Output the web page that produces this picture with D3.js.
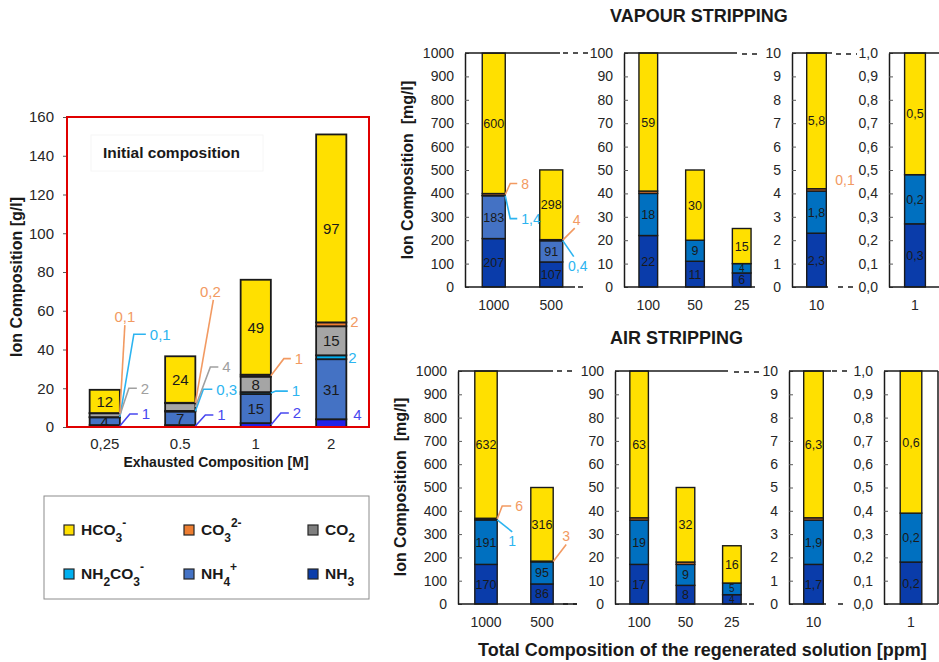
<!DOCTYPE html>
<html>
<head>
<meta charset="utf-8">
<script src="https://cdn.jsdelivr.net/npm/d3@7"></script>
<style>
  body { margin: 0; background: #fff; }
  svg { display: block; font-family: Arial, "Liberation Sans", sans-serif; }
</style>
</head>
<body>
<svg id="chart" width="939" height="662"></svg>
<script>
// ---------------- data ----------------
const seriesKeys = ["NH3", "NH4", "NH2CO3", "CO2", "CO3", "HCO3"];

// Exhausted solutions, g/l
const exhCats   = ["0,25", "0.5", "1", "2"];
const exhNH3    = [1, 1, 2, 4];
const exhNH4    = [4, 7, 15, 31];
const exhNH2CO3 = [0.1, 0.3, 1, 2];
const exhCO2    = [2, 4, 8, 15];
const exhCO3    = [0.1, 0.2, 1, 2];
const exhHCO3   = [12, 24, 49, 97];
const exhTicks  = [0, 20, 40, 60, 80, 100, 120, 140, 160];

// Vapour stripping, mg/l
const vapACats = ["1000", "500"];
const vapANH3 = [207, 107];
const vapANH4 = [183, 91];
const vapANH2CO3 = [1.4, 0.4];
const vapACO3 = [8, 4];
const vapAHCO3 = [600, 298];

const vapBCats = ["100", "50", "25"];
const vapBNH3 = [22, 11, 6];
const vapBNH4 = [18, 9, 4];
const vapBCO3 = [1, 0, 0];
const vapBHCO3 = [59, 30, 15];

const vapCCats = ["10"];
const vapCNH3 = [2.3];
const vapCNH4 = [1.8];
const vapCCO3 = [0.1];
const vapCHCO3 = [5.8];

const vapDCats = ["1"];
const vapDNH3 = [0.27];
const vapDNH4 = [0.21];
const vapDHCO3 = [0.52];

// Air stripping, mg/l
const airACats = ["1000", "500"];
const airANH3 = [170, 86];
const airANH4 = [191, 95];
const airANH2CO3 = [1, 0];
const airACO3 = [6, 3];
const airAHCO3 = [632, 316];

const airBCats = ["100", "50", "25"];
const airBNH3 = [17, 8, 4];
const airBNH4 = [19, 9, 5];
const airBCO3 = [1, 1, 0];
const airBHCO3 = [63, 32, 16];

const airCCats = ["10"];
const airCNH3 = [1.7];
const airCNH4 = [1.9];
const airCCO3 = [0.1];
const airCHCO3 = [6.3];

const airDCats = ["1"];
const airDNH3 = [0.18];
const airDNH4 = [0.21];
const airDHCO3 = [0.61];

const ticks1000 = [0, 100, 200, 300, 400, 500, 600, 700, 800, 900, 1000];
const ticks100  = [0, 10, 20, 30, 40, 50, 60, 70, 80, 90, 100];
const ticks10   = [0, 1, 2, 3, 4, 5, 6, 7, 8, 9, 10];
const ticks1    = [0, 0.1, 0.2, 0.3, 0.4, 0.5, 0.6, 0.7, 0.8, 0.9, 1.0];

// ---------------- styles ----------------
const colors = {
  HCO3: "#FFE000", CO3: "#ED7D31", CO2: "#A5A5A5",
  NH2CO3: "#00B0F0", NH4: "#4472C4", NH3: "#0A3CAA"
};
const exhColors = Object.assign({}, colors, { NH3: "#2222E8" });
const stripMid = "#0070C0";
const legendColors = Object.assign({}, colors, { CO2: "#7F7F7F" });
const calloutColors = { NH3: "#4848F0", NH2CO3: "#2CB4F0", CO2: "#A0A0A0", CO3: "#F29A62" };

const fmt = v => (Number.isInteger(v) ? String(v) : v.toFixed(1)).replace(".", ",");
const tickComma = d => d.toFixed(1).replace(".", ",");

function buildRows(cats, cols) {
  return cats.map((c, i) => {
    const r = { cat: c };
    seriesKeys.forEach(k => { r[k] = cols[k] ? cols[k][i] : 0; });
    return r;
  });
}

const svg = d3.select("#chart");

// generic stacked bars + labels
function drawBars(g, rows, x, y, palette, opt) {
  const stacked = d3.stack().keys(seriesKeys).value((d, k) => d[k])(rows);
  const calloutSet = new Set((opt.callouts || []).map(c => c.cat + "|" + c.key));

  stacked.forEach(layer => {
    g.append("g").selectAll("rect")
      .data(layer.filter(s => s.data[layer.key] > 0))
      .join("rect")
      .attr("x", s => x(s.data.cat))
      .attr("width", x.bandwidth())
      .attr("y", s => y(s[1]))
      .attr("height", s => Math.max(0, y(s[0]) - y(s[1])))
      .attr("fill", palette[layer.key])
      .attr("stroke", "#1a1a1a")
      .attr("stroke-width", opt.strokeW);
  });

  // labels inside the segments (smaller type in very short segments)
  stacked.forEach(layer => {
    if (!opt.insideKeys.includes(layer.key)) return;
    g.append("g").selectAll("text")
      .data(layer.filter(s => s.data[layer.key] > 0 && !calloutSet.has(s.data.cat + "|" + layer.key)))
      .join("text")
      .attr("x", s => x(s.data.cat) + x.bandwidth() / 2)
      .attr("y", s => (y(s[0]) + y(s[1])) / 2)
      .attr("dy", "0.36em")
      .attr("text-anchor", "middle")
      .attr("font-size", s => (y(s[0]) - y(s[1]) < 14 && opt.smallSize) ? opt.smallSize : opt.insideSize)
      .attr("font-family", opt.insideFont)
      .attr("fill", "#1a1a1a")
      .text(s => fmt(s.data[layer.key]));
  });

  // callout labels with leader lines
  (opt.callouts || []).forEach(c => {
    const layer = stacked.find(l => l.key === c.key);
    const seg = layer[x.domain().indexOf(c.cat)];
    const v = seg.data[c.key];
    const ax = x(c.cat) + x.bandwidth();
    const ay = (y(seg[0]) + y(seg[1])) / 2;
    const ex = ax + (c.dx1 || 0), ey = ay + c.dy;
    const hx = ax + (c.dx2 !== undefined ? c.dx2 : (c.dx1 || 0));
    const col = calloutColors[c.key];
    if (c.dx1) {
      g.append("path")
        .attr("d", `M${ax},${ay}L${ex},${ey}L${hx},${ey}`)
        .attr("fill", "none").attr("stroke", col).attr("stroke-width", 1.6);
    }
    const t = g.append("text")
      .attr("font-size", opt.calloutSize)
      .attr("fill", col)
      .text(fmt(v));
    if (c.pos === "top") {
      t.attr("x", ex + (c.lx || 0)).attr("y", ey - 3).attr("text-anchor", "middle");
    } else if (c.pos === "bottom") {
      t.attr("x", ex + (c.lx || 0)).attr("y", ey + 14).attr("text-anchor", "middle");
    } else {
      t.attr("x", hx + (c.gap !== undefined ? c.gap : 4)).attr("y", ey).attr("dy", "0.36em");
    }
  });
}

// ---------------- left chart: initial composition ----------------
(function () {
  const frame = { x0: 67, x1: 369, y0: 427, y1: 117 };
  const rows = buildRows(exhCats, { NH3: exhNH3, NH4: exhNH4, NH2CO3: exhNH2CO3, CO2: exhCO2, CO3: exhCO3, HCO3: exhHCO3 });
  const x = d3.scaleBand().domain(exhCats).range([frame.x0, frame.x1]).paddingInner(0.6).paddingOuter(0.3);
  const y = d3.scaleLinear().domain([0, 160]).range([frame.y0, frame.y1]);
  const g = svg.append("g");

  const ax = g.append("g").attr("transform", `translate(${frame.x0},0)`)
    .call(d3.axisLeft(y).tickValues(exhTicks).tickSize(4).tickSizeOuter(0).tickPadding(9));
  ax.select(".domain").remove();
  ax.selectAll("line").attr("stroke", "#595959");
  ax.selectAll("text").attr("font-size", 15).attr("fill", "#262626").attr("font-family", "Arial, 'Liberation Sans', sans-serif");

  // label box
  g.append("rect").attr("x", 91).attr("y", 135).attr("width", 172).attr("height", 36)
    .attr("fill", "#fff").attr("stroke", "#f6f6f6");
  g.append("text").attr("x", 103).attr("y", 158).attr("font-size", 15.5).attr("font-weight", "bold")
    .attr("fill", "#1a1a1a").text("Initial composition");

  drawBars(g, rows, x, y, exhColors, {
    strokeW: 1.8, insideKeys: ["NH4", "CO2", "HCO3"], insideSize: 15,
    insideFont: "Arial, 'Liberation Sans', sans-serif", calloutSize: 15,
    callouts: [
      { cat: "0,25", key: "NH3", dx1: 10, dy: -12, dx2: 18 },
      { cat: "0,25", key: "NH2CO3", dx1: 14, dy: -83, dx2: 26 },
      { cat: "0,25", key: "CO2", dx1: 9, dy: -27, dx2: 17 },
      { cat: "0,25", key: "CO3", dx1: 5, dy: -88, pos: "top" },
      { cat: "0.5", key: "NH3", dx1: 10, dy: -11, dx2: 18 },
      { cat: "0.5", key: "NH2CO3", dx1: 8, dy: -22, dx2: 17 },
      { cat: "0.5", key: "CO2", dx1: 15, dy: -40, dx2: 23 },
      { cat: "0.5", key: "CO3", dx1: 18, dy: -103, pos: "top", lx: -3 },
      { cat: "1", key: "NH3", dx1: 10, dy: -12, dx2: 18 },
      { cat: "1", key: "NH2CO3", dx1: 5, dy: -2, dx2: 17 },
      { cat: "1", key: "CO3", dx1: 13, dy: -17, dx2: 20 },
      { cat: "2", key: "NH3", dy: -9, gap: 7 },
      { cat: "2", key: "NH2CO3", dy: 0, gap: 2 },
      { cat: "2", key: "CO3", dy: -3, gap: 4 }
    ]
  });

  g.append("rect").attr("x", frame.x0).attr("y", frame.y1)
    .attr("width", frame.x1 - frame.x0).attr("height", frame.y0 - frame.y1)
    .attr("fill", "none").attr("stroke", "#E00000").attr("stroke-width", 2);

  g.selectAll(".xl").data(exhCats).join("text")
    .attr("x", d => x(d) + x.bandwidth() / 2).attr("y", 449)
    .attr("text-anchor", "middle").attr("font-size", 15).attr("fill", "#262626").text(d => d);

  g.append("text").attr("x", 216).attr("y", 467).attr("text-anchor", "middle")
    .attr("font-size", 14).attr("font-weight", "bold").attr("fill", "#1a1a1a")
    .text("Exhausted Composition [M]");
  g.append("text").attr("transform", "translate(22,277) rotate(-90)").attr("text-anchor", "middle")
    .attr("font-size", 16).attr("font-weight", "bold").attr("fill", "#1a1a1a")
    .text("Ion Composition [g/l]");
})();

// ---------------- legend ----------------
(function () {
  const g = svg.append("g");
  g.append("rect").attr("x", 44).attr("y", 496).attr("width", 325).attr("height", 103)
    .attr("fill", "#fff").attr("stroke", "#8c8c8c").attr("stroke-width", 1);
  const items = [
    { key: "HCO3", col: 0, row: 0, parts: [["HCO", ""], ["3", "sub"], ["-", "sup"]] },
    { key: "CO3", col: 1, row: 0, parts: [["CO", ""], ["3", "sub"], ["2-", "sup"]] },
    { key: "CO2", col: 2, row: 0, parts: [["CO", ""], ["2", "sub"]] },
    { key: "NH2CO3", col: 0, row: 1, parts: [["NH", ""], ["2", "sub"], ["CO", ""], ["3", "sub"], ["-", "sup"]] },
    { key: "NH4", col: 1, row: 1, parts: [["NH", ""], ["4", "sub"], ["+", "sup"]] },
    { key: "NH3", col: 2, row: 1, parts: [["NH", ""], ["3", "sub"]] }
  ];
  const colX = [64, 184, 308];
  const rowY = [525, 569];
  items.forEach(it => {
    const sx = colX[it.col], sy = rowY[it.row];
    g.append("rect").attr("x", sx).attr("y", sy).attr("width", 10).attr("height", 10)
      .attr("fill", legendColors[it.key]).attr("stroke", "#262626").attr("stroke-width", 1.2);
    const t = g.append("text").attr("x", sx + 17).attr("y", sy + 10)
      .attr("font-size", 15.5).attr("font-weight", "bold").attr("fill", "#1a1a1a");
    let shift = 0;
    it.parts.forEach(([txt, kind]) => {
      const target = kind === "sub" ? 7 : kind === "sup" ? -8 : 0;
      t.append("tspan").attr("dy", target - shift)
        .attr("font-size", kind ? 12 : 15.5).text(txt);
      shift = target;
    });
  });
})();

// ---------------- right charts: stripping ----------------
const topRow = { y0: 287, y1: 53 };
const botRow = { y0: 604, y1: 371 };

const panels = [
  { row: topRow, cats: vapACats, cols: { NH3: vapANH3, NH4: vapANH4, NH2CO3: vapANH2CO3, CO3: vapACO3, HCO3: vapAHCO3 },
    max: 1000, ticks: ticks1000, tf: d3.format("d"), x0: 465, x1: 580, po: 0.3, topEnd: 560, botEnd: 575, mid: colors.NH4,
    callouts: [
      { cat: "1000", key: "CO3", dx1: 5, dy: -11, dx2: 12 },
      { cat: "1000", key: "NH2CO3", dx1: 5, dy: 23, dx2: 12 },
      { cat: "500", key: "CO3", dx1: 12, dy: -12, pos: "top", lx: 2 },
      { cat: "500", key: "NH2CO3", dx1: 11, dy: 16, pos: "bottom", lx: 4 }
    ] },
  { row: topRow, cats: vapBCats, cols: { NH3: vapBNH3, NH4: vapBNH4, CO3: vapBCO3, HCO3: vapBHCO3 },
    max: 100, ticks: ticks100, tf: d3.format("d"), x0: 624, x1: 766, po: 0.32, topEnd: 737, botEnd: 755, mid: stripMid, callouts: [] },
  { row: topRow, cats: vapCCats, cols: { NH3: vapCNH3, NH4: vapCNH4, CO3: vapCCO3, HCO3: vapCHCO3 },
    max: 10, ticks: ticks10, tf: d3.format("d"), x0: 792, x1: 841, po: 0.3, topEnd: 832, botEnd: 828, mid: stripMid,
    callouts: [{ cat: "10", key: "CO3", dy: -10, gap: 9 }] },
  { row: topRow, cats: vapDCats, cols: { NH3: vapDNH3, NH4: vapDNH4, HCO3: vapDHCO3 },
    max: 1, ticks: ticks1, tf: tickComma, x0: 889, x1: 941, po: 0.3, topEnd: 941, botEnd: 941, mid: stripMid, box: true, callouts: [] },

  { row: botRow, cats: airACats, cols: { NH3: airANH3, NH4: airANH4, NH2CO3: airANH2CO3, CO3: airACO3, HCO3: airAHCO3 },
    max: 1000, ticks: ticks1000, tf: d3.format("d"), x0: 458, x1: 570, po: 0.3, topEnd: 553, botEnd: 577, mid: stripMid,
    callouts: [
      { cat: "1000", key: "CO3", dx1: 5, dy: -13, dx2: 14 },
      { cat: "1000", key: "NH2CO3", dx1: 15, dy: 12, pos: "bottom" },
      { cat: "500", key: "CO3", dx1: 13, dy: -17, pos: "top" }
    ] },
  { row: botRow, cats: airBCats, cols: { NH3: airBNH3, NH4: airBNH4, CO3: airBCO3, HCO3: airBHCO3 },
    max: 100, ticks: ticks100, tf: d3.format("d"), x0: 615, x1: 756, po: 0.32, topEnd: 728, botEnd: 747, mid: stripMid, callouts: [] },
  { row: botRow, cats: airCCats, cols: { NH3: airCNH3, NH4: airCNH4, CO3: airCCO3, HCO3: airCHCO3 },
    max: 10, ticks: ticks10, tf: d3.format("d"), x0: 789, x1: 838, po: 0.3, topEnd: 831, botEnd: 826, mid: stripMid, callouts: [] },
  { row: botRow, cats: airDCats, cols: { NH3: airDNH3, NH4: airDNH4, HCO3: airDHCO3 },
    max: 1, ticks: ticks1, tf: tickComma, x0: 884, x1: 938, po: 0.3, topEnd: 938, botEnd: 938, mid: stripMid, box: true, callouts: [] }
];

// dashed breaks linking neighbouring panels
const breakMarks = [
  { y: 53, x0: 563, x1: 589 }, { y: 287, x0: 578, x1: 584 },
  { y: 54, x0: 742, x1: 761 },
  { y: 54, x0: 836, x1: 857 }, { y: 287, x0: 838, x1: 855 },
  { y: 371, x0: 557, x1: 575 }, { y: 604, x0: 563, x1: 577 },
  { y: 372, x0: 734, x1: 759 }, { y: 604, x0: 749, x1: 755 },
  { y: 371, x0: 832, x1: 850 }, { y: 604, x0: 838, x1: 845 }
];

panels.forEach(p => {
  const g = svg.append("g");
  const rows = buildRows(p.cats, p.cols);
  const x = d3.scaleBand().domain(p.cats).range([p.x0, p.x1]).paddingInner(0.6).paddingOuter(p.po);
  const y = d3.scaleLinear().domain([0, p.max]).range([p.row.y0, p.row.y1]);
  const palette = Object.assign({}, colors, { NH4: p.mid });

  const ax = g.append("g").attr("transform", `translate(${p.x0},0)`)
    .call(d3.axisLeft(y).tickValues(p.ticks).tickFormat(p.tf).tickSize(-4).tickSizeOuter(0).tickPadding(11));
  ax.select(".domain").attr("stroke", "#1a1a1a").attr("stroke-width", 1.5);
  ax.selectAll(".tick line").attr("stroke", "#595959");
  ax.selectAll("text").attr("font-size", 14).attr("fill", "#262626").attr("font-family", "Arial, 'Liberation Sans', sans-serif");

  drawBars(g, rows, x, y, palette, {
    strokeW: 1.4, insideKeys: ["NH3", "NH4", "HCO3"], insideSize: 12.5, smallSize: 10,
    insideFont: "'Liberation Sans Narrow', 'Arial Narrow', Arial, sans-serif", calloutSize: 14,
    callouts: p.callouts
  });

  g.append("line").attr("x1", p.x0).attr("x2", p.topEnd).attr("y1", p.row.y1).attr("y2", p.row.y1)
    .attr("stroke", "#1a1a1a").attr("stroke-width", 1.5);
  g.append("line").attr("x1", p.x0).attr("x2", p.botEnd).attr("y1", p.row.y0).attr("y2", p.row.y0)
    .attr("stroke", "#1a1a1a").attr("stroke-width", 1.5);
  if (p.box) {
    g.append("line").attr("x1", p.x1).attr("x2", p.x1).attr("y1", p.row.y1).attr("y2", p.row.y0)
      .attr("stroke", "#1a1a1a").attr("stroke-width", 1.5);
  }

  g.selectAll(".xl").data(p.cats).join("text")
    .attr("x", d => x(d) + x.bandwidth() / 2).attr("y", p.row.y0 + 23)
    .attr("text-anchor", "middle").attr("font-size", 14).attr("fill", "#262626").text(d => d);
});

svg.append("g").selectAll("line").data(breakMarks).join("line")
  .attr("x1", d => d.x0).attr("x2", d => d.x1).attr("y1", d => d.y).attr("y2", d => d.y)
  .attr("stroke", "#1a1a1a").attr("stroke-width", 1.5).attr("stroke-dasharray", "5,5");

// titles
svg.append("text").attr("x", 610).attr("y", 22).attr("font-size", 18).attr("font-weight", "bold")
  .attr("fill", "#1a1a1a").text("VAPOUR STRIPPING");
svg.append("text").attr("x", 610).attr("y", 344).attr("font-size", 18).attr("font-weight", "bold")
  .attr("fill", "#1a1a1a").text("AIR STRIPPING");
svg.append("text").attr("x", 478).attr("y", 656).attr("font-size", 18).attr("font-weight", "bold")
  .attr("fill", "#1a1a1a").text("Total Composition of the regenerated solution [ppm]");
svg.append("text").attr("transform", "translate(413,170) rotate(-90)").attr("text-anchor", "middle")
  .attr("font-size", 16).attr("font-weight", "bold").attr("fill", "#1a1a1a")
  .style("white-space", "pre").text("Ion Composition  [mg/l]");
svg.append("text").attr("transform", "translate(406,487) rotate(-90)").attr("text-anchor", "middle")
  .attr("font-size", 16).attr("font-weight", "bold").attr("fill", "#1a1a1a")
  .style("white-space", "pre").text("Ion Composition  [mg/l]");
</script>
</body>
</html>
